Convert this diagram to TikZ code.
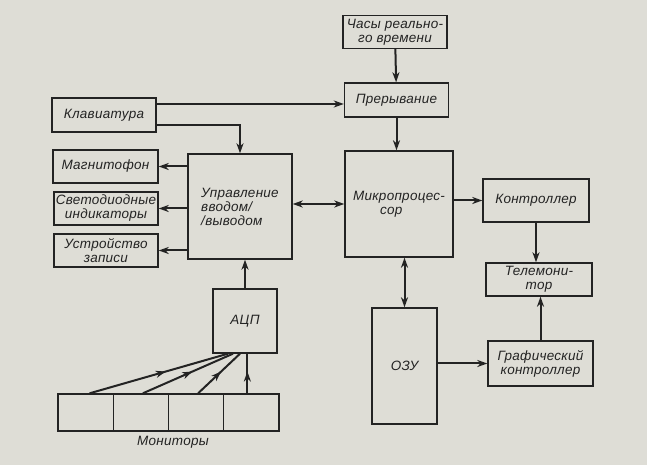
\documentclass[tikz,border=0pt]{standalone}
\usepackage{fontspec}
\setmainfont{Liberation Sans}[LetterSpace=2.0]
\usepackage{tikz}
\usetikzlibrary{arrows.meta,positioning,decorations.markings}
\definecolor{paper}{RGB}{222,221,214}
\definecolor{ink}{RGB}{35,35,35}
\newcommand{\lbl}{\fontsize{13.5}{14}\selectfont\itshape}
\tikzset{>={Stealth[length=10pt,width=7pt,inset=3pt]}}
\tikzset{unit/.style={rectangle,draw=ink,text=ink,line width=1.4pt,font=\lbl,minimum width=104pt,minimum height=33pt,inner sep=1pt,align=center}}
\tikzset{cell/.style={rectangle,draw=ink,line width=1.4pt,minimum width=55.25pt,minimum height=37pt,inner sep=0pt}}
\tikzset{link/.style={draw=ink,line width=2pt}}
\tikzset{feed/.style={draw=ink,line width=2pt,postaction=decorate,decoration={markings,mark=at position 0.55 with {\arrow{>}}}}}

\begin{document}
\begin{tikzpicture}[x=1pt,y=1pt]
    \fill[paper] (0,0) rectangle (647,465);

    \node[unit] (clock) at (395,433) {Часы реально-\\го времени};
    \node[unit,minimum height=34pt] (intr) at (396.5,365) {Прерывание};
    \node[unit,minimum height=34pt] (kbd)  at (104,350) {Клавиатура};
    \node[unit,minimum width=105pt] (tape) at (105.5,298.5) {Магнитофон};
    \node[unit] (led) at (106,256.5) {Светодиодные\\индикаторы};
    \node[unit] (rec) at (106,214.5) {Устройство\\записи};
    \node[unit,minimum height=105pt,align=left] (io)  at (240,258.5) {Управление\\вводом/\\/выводом};
    \node[unit,minimum width=108pt,minimum height=106pt,align=left] (cpu) at (399,261) {Микропроцес-\\\qquad сор};
    \node[unit,minimum width=106pt,minimum height=43pt] (ctrl) at (536,264.5) {Контроллер};
    \node[unit,minimum width=106pt] (tv)  at (539,185.5) {Телемони-\\тор};
    \node[unit,minimum width=65pt,minimum height=116pt] (ram) at (404.5,99) {ОЗУ};
    \node[unit,minimum width=105pt,minimum height=45pt] (gfx) at (540.5,101.5) {Графический\\контроллер};
    \node[unit,minimum width=64pt,minimum height=64pt] (adc) at (245,144) {АЦП};

    \foreach \i in {1,...,4}
        \node[cell] (m\i) at ({58+55.25*(\i-0.5)},52.5) {};
    \node[font=\lbl,text=ink] (montxt) at (173,23) {Мониторы};

    \draw[link,->] (clock) -- (intr);
    \draw[link,->] (intr.south) -- (intr.south |- cpu.north);
    \draw[link,->] ([yshift=11pt]kbd.east) -- ([yshift=11pt]kbd.east -| intr.west);
    \draw[link,->] ([yshift=-10pt]kbd.east) -| (io.north);

    \draw[link,->] (io.west |- tape) -- (tape);
    \draw[link,->] (io.west |- led) -- (led);
    \draw[link,->] (io.west |- rec) -- (rec);
    \draw[link,<->] (io.east |- cpu) -- (cpu);

    \draw[link,->] (cpu.east |- ctrl) -- (ctrl);
    \draw[link,->] (ctrl.south) -- (ctrl.south |- tv.north);
    \draw[link,->] (gfx.north) -- (gfx.north |- tv.south);
    \draw[link,<->] (ram.north) -- (ram.north |- cpu.south);
    \draw[link,->] (ram.east |- gfx) -- (gfx);
    \draw[link,->] (adc.north) -- (adc.north |- io.south);

    \draw[feed] ([xshift=4pt]m1.north) -- ([xshift=-17pt]adc.south);
    \draw[feed] ([xshift=2pt]m2.north) -- ([xshift=-12pt]adc.south);
    \draw[feed] ([xshift=2pt]m3.north) -- ([xshift=-5pt]adc.south);
    \draw[feed] ([xshift=-4pt]m4.north) -- ([xshift=-4pt]m4.north |- adc.south);
\end{tikzpicture}
\end{document}
